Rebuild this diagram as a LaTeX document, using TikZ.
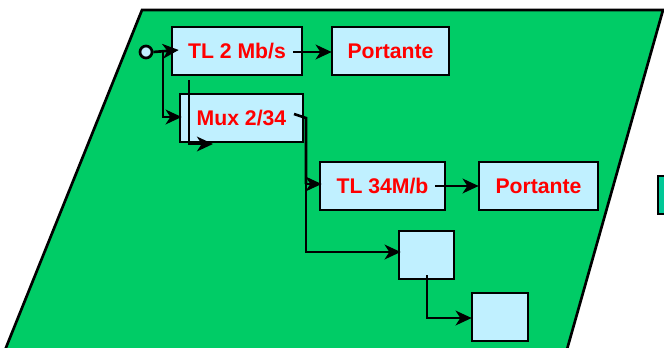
\documentclass[tikz,border=0pt]{standalone}
\usepackage{fontspec}
\setmainfont{Liberation Sans}
\usetikzlibrary{arrows.meta,calc}
\definecolor{bggreen}{RGB}{0,204,102}
\definecolor{boxcyan}{RGB}{192,240,255}
\definecolor{teal2}{RGB}{0,200,150}
\begin{document}
\begin{tikzpicture}[x=0.75pt,y=-0.75pt,
  box/.style={draw=black,line width=2pt,fill=boxcyan,inner sep=0pt,minimum height=36pt,
    font=\fontsize{15.9pt}{18pt}\selectfont\bfseries,text=red},
  conn/.style={draw=black,line width=2pt},
  arr/.style={conn,-{Stealth[length=12pt,width=11pt,inset=3.5pt]}}]
\useasboundingbox (0,0) rectangle (664,347);
\begin{scope}
\clip (0,0) rectangle (664,347);
\draw[line width=2pt,fill=bggreen] (142,10) -- (663,10) -- (564,360) -- (1,360) -- cycle;
\draw[line width=2pt,fill=teal2] (658,176) rectangle (690,214);
\end{scope}
% nodes
\node[box,minimum width=97.5pt] (tl2) at (237,51) {TL 2 Mb/s};
\node[box,minimum width=87.75pt] (p1) at (390.5,51) {Portante};
\node[box,minimum width=92.25pt] (mux) at (241.5,118) {Mux 2/34};
\node[box,minimum width=93.75pt] (tl34) at (382.5,186) {TL 34M/b};
\node[box,minimum width=89.25pt] (p2) at (538.5,186) {Portante};
\node[box,minimum width=41.25pt] (s1) at (426.5,255) {};
\node[box,minimum width=42pt] (s2) at (500,317) {};
\node[circle,draw=black,line width=2pt,fill=boxcyan,minimum size=9pt,inner sep=0pt] (c) at (146,52) {};
% coordinates
\coordinate (b1) at (163,51.5);
\coordinate (w1) at (189,80);
\coordinate (w2) at (213,144);
\coordinate (t2out) at (293,52);
\coordinate (mo1) at (294,114);
\coordinate (mo2) at (306,118);
\coordinate (b2) at (306,184);
\coordinate (t34out) at (435,186);
\coordinate (s1out) at (427,275);
% connectors
\draw[arr] (c.east) -- ($(tl2.west)+(8,-1)$);
\draw[arr] (b1) |- ($(mux.west)+(3,-1)$);
\draw[arr] (w1) |- (w2);
\draw[arr] (t2out) -- ($(p1.west)+(1,1)$);
\draw[conn] (mo1) -- (mo2) -- (b2);
\draw[arr] (b2) -- ($(tl34.west)+(3,-2)$);
\draw[arr] (b2) |- ($(s1.west)+(3,-3)$);
\draw[arr] (t34out) -- ($(p2.west)+(1,0)$);
\draw[arr] (s1out) |- ($(s2.west)+(1,1)$);
\end{tikzpicture}
\end{document}
